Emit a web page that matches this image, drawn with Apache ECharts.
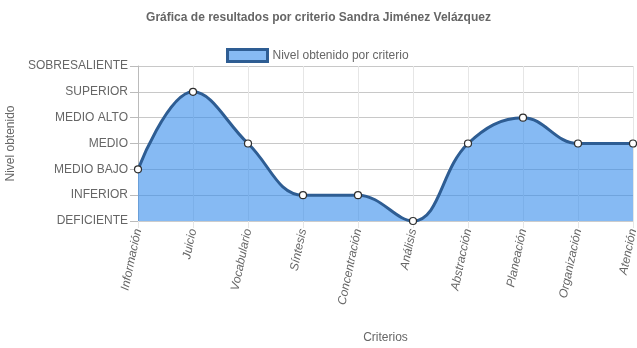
<!DOCTYPE html>
<html><head><meta charset="utf-8">
<script src="https://cdn.jsdelivr.net/npm/echarts@6/dist/echarts.min.js"></script>
<style>html,body{margin:0;padding:0;background:#fff}#c{width:637px;height:348px}</style>
</head><body><div id="c"></div>
<script>
const categories = ["Información","Juicio","Vocabulario","Síntesis","Concentración","Análisis","Abstracción","Planeación","Organización","Atención"];
const values = [2,5,3,1,1,0,3,4,3,3];
const levelLabels = ["DEFICIENTE","INFERIOR","MEDIO BAJO","MEDIO","MEDIO ALTO","SUPERIOR","SOBRESALIENTE"];
const seriesName = "Nivel obtenido por criterio";
const titleText = "Gráfica de resultados por criterio Sandra Jiménez Velázquez";

const font = "Liberation Sans, Arial, sans-serif";
const chart = echarts.init(document.getElementById('c'), null, {renderer:'canvas'});
chart.setOption({
  animation:false,
  textStyle:{fontFamily:font},
  title:{text:titleText,left:'center',top:7,textStyle:{fontFamily:font,fontSize:12,fontWeight:'bold',color:'#666'}},
  legend:{top:43,left:221,itemWidth:40,itemHeight:12,itemGap:6,
    textStyle:{fontFamily:font,fontSize:12,color:'#666'},
    data:[{name:seriesName,icon:'rect',itemStyle:{color:'#86baf3',borderColor:'#2e5d93',borderWidth:3}}]},
  grid:{left:138,right:4,top:66,bottom:127,containLabel:false,outerBoundsMode:'none'},
  xAxis:{type:'category',data:categories,boundaryGap:false,
    name:'Criterios',nameLocation:'middle',nameGap:111,nameTextStyle:{fontFamily:font,fontSize:12,color:'#666'},
    axisLine:{show:true,lineStyle:{color:'#ccc'}},
    axisTick:{show:true,length:7,lineStyle:{color:'#e6e6e6'}},
    axisLabel:{rotate:78,margin:8,fontFamily:font,fontSize:12,color:'#666',fontStyle:'italic',interval:0},
    splitLine:{show:true,lineStyle:{color:'#e6e6e6'}}},
  yAxis:{type:'value',min:0,max:6,interval:1,
    name:'Nivel obtenido',nameLocation:'middle',nameGap:112,nameTextStyle:{fontFamily:font,fontSize:12,color:'#666'},
    axisLine:{show:true,lineStyle:{color:'#bbb'}},
    axisTick:{show:true,length:8,lineStyle:{color:'#bbb'}},
    axisLabel:{margin:10,fontFamily:font,fontSize:12,color:'#666',formatter:v=>levelLabels[v]},
    splitLine:{show:true,lineStyle:{color:'#c8c8c8'}}},
  series:[{name:seriesName,type:'line',data:values,smooth:0.4,
    symbol:'circle',symbolSize:7,
    lineStyle:{color:'#2e5d93',width:3},
    itemStyle:{color:'#fff',borderColor:'#2e2e2e',borderWidth:1.2},
    areaStyle:{color:'rgba(54,140,235,0.6)',opacity:1}}]
});
</script></body></html>
